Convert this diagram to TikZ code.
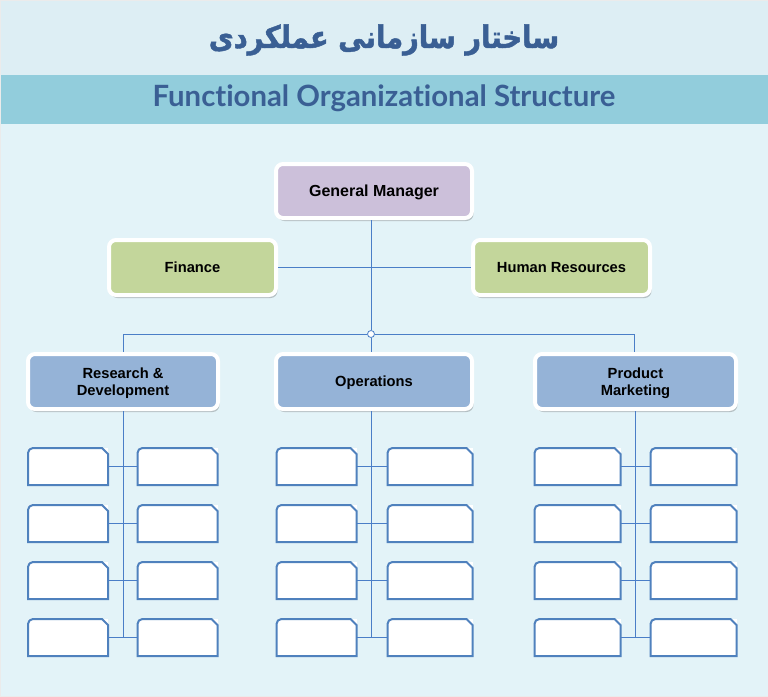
\documentclass[tikz,border=0pt]{standalone}
\usepackage{fontspec}
\setmainfont{Liberation Sans}
\newfontfamily\farsifont[Script=Arabic, FakeBold=1.5, FakeStretch=0.88]{DejaVu Sans Bold}
\newfontfamily\headfont[Ligatures=NoCommon]{Lato}
\TeXXeTstate=1
\usetikzlibrary{positioning}
\usetikzlibrary{shadows}

\definecolor{topbg}{HTML}{DDEEF4}
\definecolor{bandbg}{HTML}{92CDDC}
\definecolor{bodybg}{HTML}{E3F3F8}
\definecolor{headblue}{HTML}{3A5F94}
\definecolor{gmfill}{HTML}{CCC0DA}
\definecolor{staffill}{HTML}{C3D69B}
\definecolor{deptfill}{HTML}{95B3D7}
\definecolor{linkblue}{HTML}{4A7EC7}
\definecolor{slotblue}{HTML}{4F81BD}

\tikzset{
  unit/.style={draw=white, line width=4pt, rounded corners=7pt,
    minimum height=55pt, inner sep=2pt, align=center, text=black,
    text depth=0pt, font=\bfseries\fontsize{14.7}{17}\selectfont,
    drop shadow={shadow xshift=1.5pt, shadow yshift=-3pt,
      opacity=0.3, fill=black!70}},
  slot/.style={fill=white, minimum height=37pt, inner sep=0pt, outer sep=0pt},
  slotedge/.style={draw=slotblue, line width=2pt},
  link/.style={draw=linkblue, line width=1pt},
  hubdot/.style={circle, draw=linkblue, line width=0.8pt, fill=white,
    minimum size=7pt, inner sep=0pt}
}

% outline of an empty box: round top left, cut top right
\newcommand{\slotframe}[1]{%
  \draw[slotedge] (#1.south west) -- ([yshift=-5pt]#1.north west)
    .. controls ([yshift=-2.2pt]#1.north west) and ([xshift=2.2pt]#1.north west)
    .. ([xshift=5pt]#1.north west)
    -- ([xshift=-6pt]#1.north east) -- ([yshift=-6pt]#1.north east)
    -- (#1.south east) -- cycle;}

\begin{document}
\begin{tikzpicture}[x=1pt, y=-1pt]
\useasboundingbox (0,0) rectangle (768,696);
% background bands
\fill[topbg] (0,0) rectangle (768,75);
\fill[bandbg] (0,75) rectangle (768,124);
\fill[bodybg] (0,124) rectangle (768,696);
\draw[black!8, line width=0.8pt] (0,0) rectangle (768,696);

%% Headings
\node[text=headblue, font=\farsifont\fontsize{31}{36}\selectfont]
  (title) at (384,40) {\beginR ساختار سازمانی عملکردی\endR};
\node[text=headblue, font=\headfont\bfseries\fontsize{29.3}{32}\selectfont]
  (subtitle) at (384,98) {Functional Organizational Structure};

%% Top of the chart
\node[unit, fill=gmfill, minimum width=196pt, minimum height=54pt,
  font=\bfseries\fontsize{16}{18}\selectfont] (gm) at (374,191) {General Manager};
\node[unit, fill=staffill, minimum width=167pt] (fin) at (192.5,267.5) {Finance};
\node[unit, fill=staffill, minimum width=177pt] (hr) at (561.5,267.5) {Human Resources};

%% Departments
\node[unit, fill=deptfill, minimum width=190pt] (rd) at (123,381.5) {Research \&\\Development};
\node[unit, fill=deptfill, minimum width=196pt] (ops) at (374,381.5) {Operations};
\node[unit, fill=deptfill, minimum width=201pt] (pm) at (635.5,381.5) {Product\\Marketing};

\node[hubdot] (hub) at (371,334) {};
\draw[link] (fin) -- (hr);
\draw[link] (gm.south -| hub) -- (hub);
\draw[link] (hub) -| (rd);
\draw[link] (hub) -| ([xshift=-1.5pt]pm.north);
\draw[link] (hub) -- (ops.north -| hub);

%% Empty boxes under each department
\foreach \col/\cx/\lx/\lw/\rx/\rw in {rd/123/68/80/177.5/80,
    ops/371/316.5/80/430/85, pm/635/577.5/86/693.5/86} {
  \foreach \row/\ry in {1/466.5, 2/523.5, 3/580.5, 4/637.5} {
    \node[slot, minimum width=\lw pt] (\col-l\row) at (\lx,\ry) {};
    \node[slot, minimum width=\rw pt] (\col-r\row) at (\rx,\ry) {};
    \slotframe{\col-l\row}
    \slotframe{\col-r\row}
    \draw[link] (\col-l\row) -- (\col-r\row);
  }
  \coordinate (\col-end) at (\cx,637.5);
  \draw[link] (\col.south -| \col-end) -- (\col-end);
}
\end{tikzpicture}
\end{document}
